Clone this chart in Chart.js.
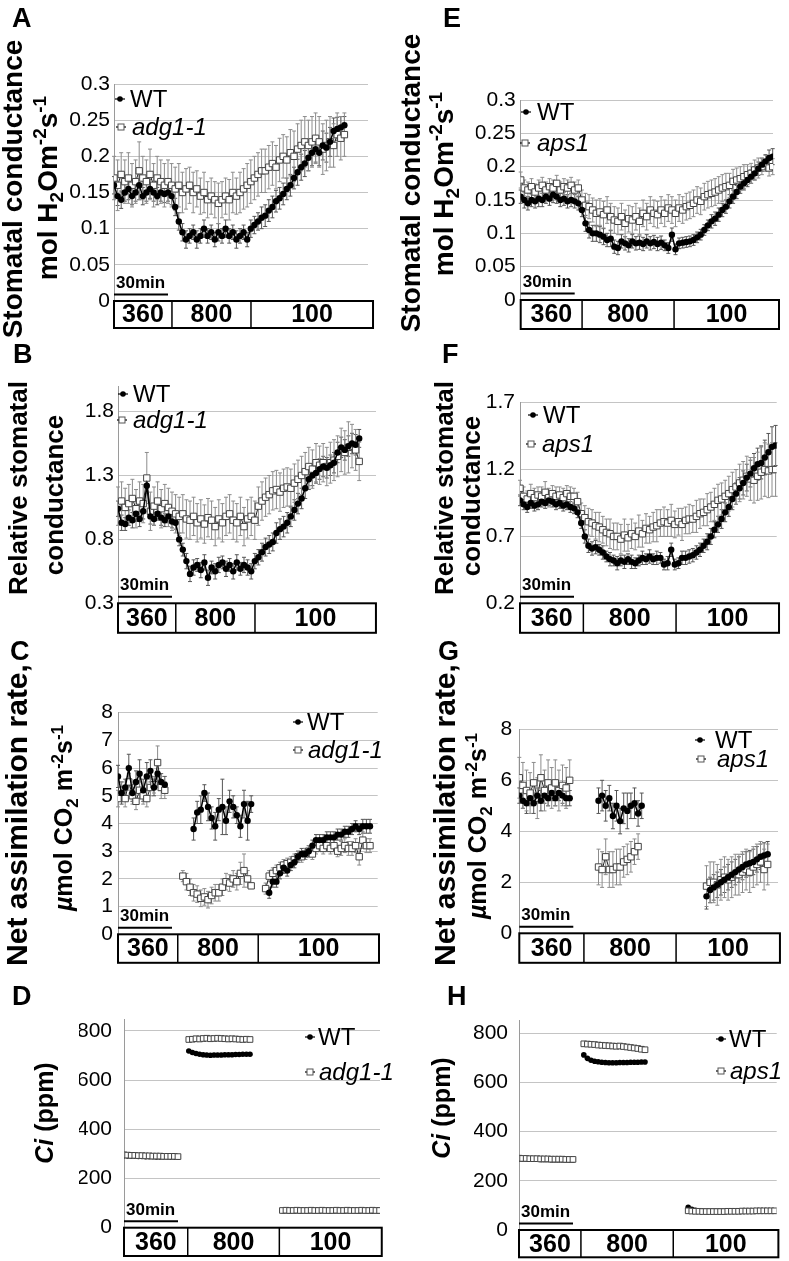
<!DOCTYPE html>
<html>
<head>
<meta charset="utf-8">
<script src="https://cdn.jsdelivr.net/npm/chart.js@4.4.0/dist/chart.umd.min.js"></script>
<style>
  body { margin: 0; background: #fff; width: 789px; height: 1261px; position: relative; overflow: hidden; }
  canvas { position: absolute; }
</style>
</head>
<body>
<script>
const FONT = '"Liberation Sans", Arial, Helvetica, sans-serif';

// CO2 steps (ppm) shown in the box under each panel, and the time grid (min)
const co2Labels = ['360', '800', '100'];
const minutes = [0,2,4,6,8,10,12,14,16,18,20,22,24,26,28,30,32,34,36,38,40,42,44,46,48,50,52,54,56,58,60,62,64,66,68,70,
  72,74,76,78,80,82,84,86,88,90,92,94,96,98,100,102,104,106,108,110,112,114,116,118,120,122,124,126,128,130,132,134,136,138,140,142,144];

// tick labels
const ticksGs = [0, 0.05, 0.1, 0.15, 0.2, 0.25, 0.3];
const ticksRelB = [0.3, 0.8, 1.3, 1.8];
const ticksRelF = [0.2, 0.7, 1.2, 1.7];
const ticksAsC = [0, 1, 2, 3, 4, 5, 6, 7, 8];
const ticksAsG = [0, 2, 4, 6, 8];
const ticksCi = [0, 200, 400, 600, 800];

// A: stomatal conductance, WT vs adg1-1
const gsWT_A = [.16,.145,.14,.15,.155,.145,.15,.16,.145,.15,.155,.15,.145,.15,.148,.15,
  .145,.13,.11,.095,.085,.09,.095,.085,.09,.1,.09,.095,.085,.095,.09,.1,.09,.095,.085,.09,.095,.085,
  .1,.105,.11,.115,.118,.125,.13,.138,.142,.148,.155,.16,.17,.178,.185,.19,.198,.205,.21,.205,.215,.212,.22,.235,.238,.24,.243];
const gsWTerr_A = [.012,.013,.012,.012,.015,.012,.012,.02,.012,.012,.013,.012,.012,.012,.012,.012,
  .012,.012,.012,.012,.012,.01,.01,.012,.01,.012,.01,.01,.01,.012,.01,.012,.01,.01,.012,.01,.01,.01,
  .012,.012,.012,.015,.015,.015,.015,.015,.015,.015,.015,.015,.015,.018,.018,.018,.018,.018,.018,.018,.02,.02,.02,.018,.016,.015,.012];
const gsMut_A = [.17,.16,.175,.165,.17,.16,.165,.18,.17,.165,.175,.16,.17,.165,.16,.165,
  .16,.155,.16,.15,.155,.16,.15,.155,.145,.15,.14,.145,.14,.135,.14,.145,.14,.15,.145,.15,.155,.16,
  .165,.17,.175,.18,.18,.185,.19,.185,.195,.2,.195,.205,.2,.21,.215,.22,.215,.22,.225,.22,.21,.215,.22,.215,.23,.225,.23];
const gsMutErr_A = [.03,.035,.03,.03,.035,.03,.03,.04,.03,.03,.035,.03,.03,.03,.03,.03,
  .03,.03,.03,.028,.028,.025,.028,.025,.025,.028,.025,.025,.025,.028,.025,.025,.028,.028,.025,.028,.028,.03,
  .03,.03,.03,.03,.03,.03,.03,.03,.03,.03,.032,.032,.035,.035,.035,.035,.035,.035,.035,.035,.035,.035,.035,.03,.03,.03,.03];

// E: stomatal conductance, WT vs aps1
const gsWT_E = [.155,.15,.145,.15,.148,.152,.15,.155,.152,.158,.155,.15,.152,.148,.15,.148,.145,
  .135,.115,.105,.1,.1,.098,.095,.09,.092,.08,.078,.088,.085,.082,.088,.085,.086,.084,.088,.085,.087,.084,.086,.082,.078,.098,.076,
  .085,.086,.087,.088,.09,.094,.098,.105,.112,.118,.122,.128,.135,.14,.148,.155,.162,.17,.175,.18,.185,.19,.197,.203,.208,.213,.215];
const gsWTerr_E = [.01,.012,.01,.01,.01,.012,.01,.01,.01,.012,.01,.01,.01,.01,.01,.01,.01,
  .01,.012,.012,.012,.012,.012,.012,.01,.012,.01,.01,.01,.01,.01,.01,.01,.01,.01,.01,.01,.01,.01,.01,.008,.008,.01,.008,
  .008,.008,.008,.008,.008,.008,.008,.008,.008,.01,.01,.01,.01,.01,.01,.01,.01,.01,.01,.01,.01,.01,.01,.01,.01,.012,.012];
const gsMut_E = [.18,.168,.165,.17,.162,.168,.172,.165,.17,.168,.175,.165,.17,.168,.172,.165,.168,
  .15,.142,.14,.135,.13,.132,.128,.135,.125,.12,.118,.125,.115,.122,.12,.125,.118,.13,.125,.135,.13,.128,.135,.13,.138,.135,.13,
  .138,.135,.14,.142,.145,.15,.148,.155,.158,.16,.162,.165,.168,.17,.172,.178,.18,.182,.185,.188,.19,.195,.198,.2,.205,.198,.2];
const gsMutErr_E = [.012,.012,.012,.012,.012,.012,.012,.012,.012,.012,.012,.012,.012,.012,.012,.012,.012,
  .015,.018,.018,.018,.02,.02,.02,.02,.02,.02,.02,.02,.02,.02,.02,.02,.02,.02,.02,.02,.02,.02,.02,.02,.02,.02,.02,
  .02,.02,.02,.02,.02,.02,.02,.02,.02,.02,.02,.02,.02,.02,.018,.018,.018,.018,.018,.015,.015,.015,.015,.012,.012,.012,.012];

// B: relative stomatal conductance, WT vs adg1-1
const relWT_B = [1.04,.93,.92,.97,.95,1.0,.96,1.02,1.22,.98,.96,1.0,.97,.95,.98,.94,.93,
  .8,.72,.63,.53,.58,.6,.56,.62,.5,.58,.55,.6,.62,.57,.6,.55,.62,.57,.6,.58,.55,
  .63,.66,.7,.74,.76,.78,.85,.88,.9,.93,.98,1.03,1.08,1.12,1.2,1.27,1.3,1.32,1.35,1.37,1.36,1.38,1.4,1.48,1.52,1.5,1.53,1.55,1.54,1.59];
const relWTerr_B = [.06,.06,.05,.06,.06,.06,.06,.06,.06,.06,.05,.05,.06,.05,.05,.05,.05,
  .05,.05,.06,.06,.06,.05,.06,.06,.06,.05,.06,.06,.05,.06,.05,.06,.06,.05,.06,.06,.06,
  .06,.06,.07,.07,.07,.07,.08,.08,.08,.08,.08,.08,.08,.08,.08,.08,.08,.08,.08,.08,.08,.08,.08,.08,.08,.08,.08,.08,.08,.07];
const relMut_B = [1.06,1.1,1.05,1.08,1.12,1.04,1.1,1.08,1.28,1.02,1.06,1.1,1.04,1.08,1.05,1.02,1.0,
  .98,1.0,.96,.95,.98,.93,.96,.92,.97,.95,.9,.96,.93,.98,1.0,.95,.93,.98,.9,.96,.98,
  .95,1.06,1.1,1.13,1.15,1.18,1.19,1.17,1.2,1.21,1.2,1.24,1.27,1.3,1.33,1.37,1.35,1.4,1.38,1.4,1.37,1.4,1.42,1.45,1.5,1.48,1.52,1.53,1.5,1.41];
const relMutErr_B = [.15,.15,.15,.15,.15,.15,.15,.15,.2,.15,.15,.15,.15,.15,.15,.15,.15,
  .15,.15,.15,.15,.15,.15,.15,.15,.15,.15,.15,.15,.15,.15,.15,.15,.15,.15,.15,.15,.15,
  .15,.15,.15,.15,.15,.15,.15,.15,.15,.15,.15,.15,.15,.15,.15,.15,.15,.15,.15,.15,.15,.16,.16,.16,.17,.17,.2,.17,.16,.15];

// F: relative stomatal conductance, WT vs aps1
const relWT_F = [.97,.94,.92,.95,.93,.94,.96,.95,.97,.96,.94,.95,.93,.94,.92,.91,.88,
  .8,.7,.63,.61,.62,.6,.58,.55,.53,.52,.5,.52,.51,.53,.51,.5,.52,.54,.53,.55,.53,.54,.54,.49,.5,.6,.49,
  .5,.54,.54,.55,.56,.58,.6,.63,.66,.7,.75,.79,.83,.88,.92,.98,1.02,1.06,1.1,1.14,1.17,1.21,1.24,1.25,1.29,1.33,1.37,1.38];
const relWTerr_F = [.04,.04,.04,.04,.04,.04,.04,.04,.04,.04,.04,.04,.04,.04,.04,.04,.04,
  .04,.05,.05,.05,.05,.04,.05,.04,.05,.04,.05,.04,.05,.04,.05,.04,.04,.05,.04,.05,.04,.05,.04,.04,.05,.05,.04,
  .04,.05,.05,.05,.05,.05,.05,.05,.06,.06,.06,.06,.07,.07,.07,.08,.08,.08,.09,.1,.1,.11,.12,.12,.13,.14,.15,.15];
const relMut_F = [1.06,1.0,.98,1.02,.99,1.01,1.0,1.03,.99,1.02,1.0,1.01,.99,1.02,1.0,1.0,.96,
  .87,.84,.81,.8,.78,.77,.75,.73,.72,.7,.7,.68,.71,.69,.72,.7,.74,.72,.76,.75,.77,.78,.8,.81,.8,.82,.79,
  .81,.79,.82,.83,.83,.85,.87,.88,.9,.92,.94,.97,.98,1.0,1.02,1.05,1.07,1.1,1.12,1.15,1.13,1.12,1.15,1.18,1.2,1.19,1.2,1.2];
const relMutErr_F = [.06,.07,.06,.07,.07,.06,.07,.08,.07,.06,.07,.06,.07,.06,.07,.06,.07,
  .08,.09,.1,.1,.1,.11,.1,.1,.11,.1,.1,.11,.12,.1,.11,.1,.12,.1,.11,.1,.11,.12,.1,.11,.1,.12,.1,
  .1,.12,.1,.11,.1,.12,.11,.1,.12,.11,.12,.12,.12,.12,.13,.13,.13,.14,.14,.15,.16,.17,.18,.2,.2,.2,.2,.2];

// C: net assimilation, WT vs adg1-1 (gaps = no measurement)
const anWT_C = [5.7,5.1,5.3,6.0,5.1,5.5,5.8,5.2,5.7,5.9,5.3,5.8,5.5,5.4,
  null,null,null,null,null,null,null,
  3.8,4.4,4.5,5.1,4.6,4.2,3.9,4.5,4.6,4.1,4.8,4.6,4.3,3.9,4.7,4.1,4.7,
  null,null,null,null,
  1.5,1.9,1.9,2.2,2.4,2.3,2.5,2.6,2.8,2.9,2.9,3.0,3.2,3.4,3.4,3.4,3.5,3.5,3.5,3.6,3.6,3.7,3.7,3.8,3.9,3.8,3.9,3.9,3.9];
const anWTerr_C = [.4,.4,.3,.5,.3,.4,.5,.4,.5,.4,.3,.4,.3,.3,
  null,null,null,null,null,null,null,
  .4,.4,.5,.3,.5,.4,.5,.4,1.0,.5,.4,.4,.3,.4,.5,.7,.3,
  null,null,null,null,
  .2,.2,.2,.2,.2,.2,.2,.2,.2,.2,.2,.2,.2,.2,.2,.2,.2,.2,.2,.2,.2,.2,.2,.2,.2,.2,.25,.25,.25];
const anMut_C = [4.9,5.2,4.9,5.5,5.0,4.8,5.2,5.0,4.9,5.3,5.4,6.2,5.3,5.2,
  null,null,null,null,
  2.1,1.9,1.7,1.5,1.45,1.3,1.35,1.25,1.4,1.5,1.5,1.7,1.9,1.85,2.0,1.9,2.2,2.3,2.0,1.75,
  null,null,null,
  1.65,2.1,2.2,2.3,2.4,2.5,2.55,2.6,2.7,2.8,2.8,2.9,3.0,2.9,3.1,3.2,3.1,3.2,3.1,3.2,3.0,3.1,3.2,3.1,3.1,3.2,2.8,3.4,3.2,3.2];
const anMutErr_C = [.3,.3,.3,.3,.3,.3,.3,.3,.3,.3,.3,.6,.4,.3,
  null,null,null,null,
  .2,.3,.3,.3,.3,.3,.3,.3,.3,.3,.3,.3,.3,.3,.3,.3,.4,.6,.3,.1,
  null,null,null,
  .2,.2,.2,.2,.2,.2,.2,.2,.2,.2,.2,.2,.2,.2,.2,.2,.2,.2,.2,.2,.2,.25,.25,.25,.25,.25,.3,.3,.25,.25];

// G: net assimilation, WT vs aps1
const anWT_G = [5.4,5.2,5.1,5.3,5.1,5.4,5.2,5.4,5.3,5.5,5.3,5.5,5.4,5.3,5.3,
  null,null,null,null,null,null,null,
  5.2,5.4,5.0,5.3,4.6,5.0,4.4,4.9,4.8,5.0,5.1,4.7,5.0,
  null,null,null,null,null,null,null,null,null,null,null,null,null,null,null,null,null,
  1.45,1.7,1.8,1.9,2.0,2.1,2.2,2.3,2.4,2.5,2.6,2.7,2.75,2.8,2.9,3.0,3.05,3.1];
const anWTerr_G = [.3,.3,.4,.3,.4,.3,.4,.3,.3,.3,.3,.3,.3,.3,.3,
  null,null,null,null,null,null,null,
  .5,.6,.6,.5,.5,.6,.5,.6,.7,.5,.6,.5,.5,
  null,null,null,null,null,null,null,null,null,null,null,null,null,null,null,null,null,
  .5,.5,.5,.5,.5,.5,.5,.5,.5,.5,.5,.5,.5,.5,.5,.5,.5,.5];
const anMut_G = [6.1,5.8,5.6,5.5,5.9,5.3,6.1,5.6,5.9,5.7,5.9,5.6,5.8,5.7,6.0,
  null,null,null,null,null,null,null,
  2.6,2.5,3.0,2.5,2.5,2.6,2.6,2.8,2.9,3.0,3.2,3.4,
  null,null,null,null,null,null,null,null,null,null,null,null,null,null,null,null,null,null,
  1.85,2.0,2.0,1.9,2.1,2.2,2.1,2.2,2.3,2.3,2.4,2.5,2.4,2.6,2.7,2.8,2.5,2.7];
const anMutErr_G = [.8,.9,.8,.8,.8,.8,.9,.8,.9,.8,.9,.8,.8,.8,.8,
  null,null,null,null,null,null,null,
  .7,.7,.7,.7,.7,.7,.7,.6,.6,.6,.5,.5,
  null,null,null,null,null,null,null,null,null,null,null,null,null,null,null,null,null,null,
  .8,.8,.8,.8,.8,.8,.8,.8,.8,.8,.8,.8,.8,.8,.8,.8,.8,.8];

// D: Ci, WT vs adg1-1
const ciWT_D = [293,292,291,291,290,290,289,289,289,288,288,288,288,287,287,287,
  null,null,
  718,712,708,705,703,702,701,702,702,702,703,703,703,704,704,705,705,705,
  null,null,null,null,null,null,null,null,
  69,69,68,69,69,68,69,69,69,68,69,69,69,68,69,69,69,68,69,69,69,68,69,69,69,68,69,69];
const ciMut_D = [296,295,294,294,293,293,292,292,291,291,291,290,290,290,290,289,
  null,null,
  765,766,768,767,769,770,768,769,770,769,768,767,768,767,766,765,766,765,
  null,null,null,null,null,null,null,null,
  70,71,70,70,71,70,70,70,71,70,70,71,70,70,70,71,70,70,71,70,70,70,71,70,70,71,70,70];

// H: Ci, WT vs aps1
const ciWT_H = [290,289,289,288,288,288,287,287,287,286,286,286,286,285,285,285,
  null,null,
  712,698,690,686,684,682,681,680,680,680,681,681,681,682,682,682,683,683,
  null,null,null,null,null,null,null,null,null,null,null,
  92,84,80,78,77,76,76,76,76,76,76,76,76,76,77,77,77,77,77,78,78,78,78,78,78];
const ciMut_H = [292,291,291,290,290,290,289,289,289,288,288,288,288,287,287,287,
  null,null,
  757,756,755,754,752,751,750,749,748,747,748,746,744,742,740,738,735,733,
  null,null,null,null,null,null,null,null,null,null,null,
  78,77,76,76,75,75,75,75,75,75,75,76,76,76,76,77,77,77,77,78,78,78,78,78,78];

// axis titles (runs of rich text)
const titleGs = [[{t: 'Stomatal conductance'}],
  [{t: 'mol H'}, {t: '2', sub: 1}, {t: 'Om'}, {t: '-2', sup: 1}, {t: 's'}, {t: '-1', sup: 1}]];
const titleRel = [[{t: 'Relative stomatal'}], [{t: 'conductance'}]];
const titleAn = [[{t: 'Net assimilation rate,'}],
  [{t: 'µ', it: 1}, {t: 'mol CO'}, {t: '2', sub: 1}, {t: ' m'}, {t: '-2', sup: 1}, {t: 's'}, {t: '-1', sup: 1}]];
const titleCi = [[{t: 'Ci', it: 1}, {t: ' (ppm)'}]];

const panels = [
  { id: 'A', cx: 0, cy: 0, cw: 395, ch: 338, area: [114, 84, 368, 301], yMin: 0, yMax: 0.3, ticks: ticksGs, pad: 4,
    phases: [0, 32.2, 76.1], boxEnd: 143.9, boxH: 27, letter: [12, 27],
    title: titleGs, titlePos: [[22, 189, 28], [57, 188, 28]], mutant: 'adg1-1', legend: [[120, 99], [121, 127]], gap: 10,
    wt: gsWT_A, wtErr: gsWTerr_A, mut: gsMut_A, mutErr: gsMutErr_A },
  { id: 'E', cx: 395, cy: 0, cw: 394, ch: 338, area: [520.7, 100, 773, 300], yMin: 0, yMax: 0.3, ticks: ticksGs, pad: 5,
    phases: [0, 34.1, 85.2], boxEnd: 143.5, boxH: 29, letter: [443, 27],
    title: titleGs, titlePos: [[420, 183, 28], [453, 184, 28]], mutant: 'aps1', legend: [[526, 112], [525, 143]], gap: 11,
    wt: gsWT_E, wtErr: gsWTerr_E, mut: gsMut_E, mutErr: gsMutErr_E },
  { id: 'B', cx: 0, cy: 338, cw: 395, ch: 302, area: [118, 386, 376, 603.3], yMin: 0.3, yMax: 2.0, ticks: ticksRelB, pad: 4,
    phases: [0, 32.1, 76.1], boxEnd: 143.3, boxH: 29.5, letter: [13, 363],
    title: titleRel, titlePos: [[27, 488, 26], [63, 495, 26]], mutant: 'adg1-1', legend: [[123, 394], [122, 420]], gap: 10,
    wt: relWT_B, wtErr: relWTerr_B, mut: relMut_B, mutErr: relMutErr_B },
  { id: 'F', cx: 395, cy: 338, cw: 394, ch: 302, area: [520, 402.7, 776.7, 603.3], yMin: 0.2, yMax: 1.7, ticks: ticksRelF, pad: 5,
    phases: [0, 35.2, 86.7], boxEnd: 143.9, boxH: 29.5, letter: [442, 363],
    title: titleRel, titlePos: [[453, 488, 26], [480, 496, 26]], mutant: 'aps1', legend: [[533, 415], [531, 444]], gap: 10,
    wt: relWT_F, wtErr: relWTerr_F, mut: relMut_F, mutErr: relMutErr_F },
  { id: 'C', cx: 0, cy: 640, cw: 395, ch: 338, area: [118, 712.7, 377.7, 934.3], yMin: 0, yMax: 8, ticks: ticksAsC, pad: 5,
    phases: [0, 33.2, 77.9], boxEnd: 145, boxH: 28.5, letter: [10, 660],
    title: titleAn, titlePos: [[27, 815, 30], [72, 818, 25]], mutant: 'adg1-1', legend: [[298, 722], [298, 750]], gap: 9,
    wt: anWT_C, wtErr: anWTerr_C, mut: anMut_C, mutErr: anMutErr_C },
  { id: 'G', cx: 395, cy: 640, cw: 394, ch: 338, area: [519.3, 729.3, 778, 933.3], yMin: 0, yMax: 8, ticks: ticksAsG, pad: 7,
    phases: [0, 35.9, 87.1], boxEnd: 144.8, boxH: 29.5, letter: [438, 660],
    title: titleAn, titlePos: [[455, 815, 30], [486, 826, 25]], mutant: 'aps1', legend: [[700, 740], [701, 759]], gap: 15,
    wt: anWT_G, wtErr: anWTerr_G, mut: anMut_G, mutErr: anMutErr_G },
  { id: 'D', cx: 0, cy: 978, cw: 395, ch: 283, area: [124, 1019.3, 380, 1227.7], yMin: 0, yMax: 847, ticks: ticksCi, pad: 12,
    phases: [0, 35.4, 86.3], boxEnd: 143.2, boxH: 28.3, letter: [12, 1005],
    title: titleCi, titlePos: [[53, 1113, 25]], mutant: 'adg1-1', legend: [[310, 1037], [310, 1072]], gap: 8, ci: true,
    wt: ciWT_D, wtErr: null, mut: ciMut_D, mutErr: null },
  { id: 'H', cx: 395, cy: 978, cw: 394, ch: 283, area: [519, 1020.7, 776.7, 1230], yMin: 0, yMax: 851, ticks: ticksCi, pad: 11,
    phases: [0, 34.4, 85.7], boxEnd: 144.1, boxH: 27.3, letter: [447, 1005],
    title: titleCi, titlePos: [[450, 1108, 25]], mutant: 'aps1', legend: [[721, 1039], [721, 1071]], gap: 8, ci: true,
    wt: ciWT_H, wtErr: null, mut: ciMut_H, mutErr: null }
];
const panelById = {};
panels.forEach(p => panelById['c' + p.id] = p);

function drawRotated(ctx, runs, x, y, size) {
  ctx.save();
  ctx.translate(x, y);
  ctx.rotate(-Math.PI / 2);
  const fontFor = r => (r.it ? 'italic ' : '') + 'bold ' + ((r.sub || r.sup) ? Math.round(size * 0.68) : size) + 'px ' + FONT;
  let total = 0;
  runs.forEach(r => { ctx.font = fontFor(r); total += ctx.measureText(r.t).width; });
  let pos = -total / 2;
  ctx.textAlign = 'left';
  ctx.textBaseline = 'alphabetic';
  ctx.fillStyle = '#000';
  runs.forEach(r => {
    ctx.font = fontFor(r);
    const dy = r.sub ? size * 0.22 : r.sup ? -size * 0.38 : 0;
    ctx.fillText(r.t, pos, dy);
    pos += ctx.measureText(r.t).width;
  });
  ctx.restore();
}

function legendItem(ctx, x, y, isWT, label, gap) {
  ctx.strokeStyle = '#000';
  ctx.lineWidth = 1.2;
  ctx.beginPath(); ctx.moveTo(x - 5, y); ctx.lineTo(x + 5, y); ctx.stroke();
  if (isWT) {
    ctx.fillStyle = '#000';
    ctx.beginPath(); ctx.arc(x, y, 2.8, 0, Math.PI * 2); ctx.fill();
  } else {
    ctx.fillStyle = '#fff'; ctx.strokeStyle = '#555'; ctx.lineWidth = 1;
    ctx.fillRect(x - 3, y - 3, 6, 6); ctx.strokeRect(x - 3, y - 3, 6, 6);
  }
  ctx.fillStyle = '#000';
  ctx.font = (isWT ? '' : 'italic ') + '24px ' + FONT;
  ctx.textAlign = 'left';
  ctx.textBaseline = 'alphabetic';
  ctx.fillText(label, x + gap, y + 8);
}

const decor = {
  id: 'decor',
  beforeDatasetsDraw(chart) {
    const ctx = chart.ctx, xs = chart.scales.x, ys = chart.scales.y;
    ctx.save();
    ctx.lineWidth = 1;
    chart.data.datasets.forEach(ds => {
      if (!ds.err) return;
      ctx.strokeStyle = ds.errColor;
      ds.data.forEach((pt, i) => {
        const e = ds.err[i];
        if (pt.y == null || e == null) return;
        const x = xs.getPixelForValue(pt.x);
        const y1 = ys.getPixelForValue(pt.y + e), y2 = ys.getPixelForValue(pt.y - e);
        ctx.beginPath();
        ctx.moveTo(x, y1); ctx.lineTo(x, y2);
        ctx.moveTo(x - 2, y1); ctx.lineTo(x + 2, y1);
        ctx.moveTo(x - 2, y2); ctx.lineTo(x + 2, y2);
        ctx.stroke();
      });
    });
    ctx.restore();
  },
  afterDraw(chart) {
    const p = panelById[chart.canvas.id];
    const ctx = chart.ctx, xs = chart.scales.x;
    // page-coordinate decorations
    ctx.save();
    ctx.translate(-p.cx, -p.cy);
    ctx.fillStyle = '#000';
    ctx.font = 'bold 27px ' + FONT;
    ctx.textAlign = 'left';
    ctx.textBaseline = 'alphabetic';
    ctx.fillText(p.id, p.letter[0], p.letter[1]);
    p.title.forEach((runs, i) => drawRotated(ctx, runs, p.titlePos[i][0], p.titlePos[i][1], p.titlePos[i][2]));
    legendItem(ctx, p.legend[0][0], p.legend[0][1], true, 'WT', p.gap);
    legendItem(ctx, p.legend[1][0], p.legend[1][1], false, p.mutant, p.gap + 1);
    ctx.restore();

    // CO2 box and 30 min scale bar, placed with the x scale
    const top = chart.chartArea.bottom;
    const x0 = xs.getPixelForValue(0), xe = xs.getPixelForValue(p.boxEnd);
    ctx.save();
    ctx.fillStyle = '#fff';
    ctx.fillRect(x0, top, xe - x0, p.boxH);
    ctx.strokeStyle = '#000';
    ctx.lineWidth = 2;
    ctx.strokeRect(x0, top, xe - x0, p.boxH);
    ctx.lineWidth = 1.5;
    p.phases.slice(1).forEach(t => {
      const x = xs.getPixelForValue(t);
      ctx.beginPath(); ctx.moveTo(x, top); ctx.lineTo(x, top + p.boxH); ctx.stroke();
    });
    ctx.fillStyle = '#000';
    ctx.font = 'bold 25px ' + FONT;
    ctx.textAlign = 'center';
    ctx.textBaseline = 'middle';
    p.phases.forEach((t, i) => {
      const a = xs.getPixelForValue(t);
      const b = xs.getPixelForValue(i + 1 < p.phases.length ? p.phases[i + 1] : p.boxEnd);
      ctx.fillText(co2Labels[i], (a + b) / 2, top + p.boxH / 2 + 1);
    });
    const barY = top - 6.5;
    ctx.lineWidth = 2;
    ctx.beginPath(); ctx.moveTo(x0, barY); ctx.lineTo(xs.getPixelForValue(30), barY); ctx.stroke();
    ctx.font = 'bold 17px ' + FONT;
    ctx.textAlign = 'left';
    ctx.textBaseline = 'alphabetic';
    ctx.fillText('30min', x0 + 2, barY - 6.5);
    ctx.restore();
  }
};

function toPoints(vals) {
  return vals.map((v, i) => ({ x: minutes[i], y: v }));
}

panels.forEach(p => {
  const canvas = document.createElement('canvas');
  canvas.id = 'c' + p.id;
  canvas.width = p.cw; canvas.height = p.ch;
  canvas.style.left = p.cx + 'px'; canvas.style.top = p.cy + 'px';
  canvas.style.width = p.cw + 'px'; canvas.style.height = p.ch + 'px';
  document.body.appendChild(canvas);

  const axisW = 45;
  const [l, t, r, b] = p.area;
  const wtSet = {
    label: 'WT', data: toPoints(p.wt), err: p.wtErr, errColor: '#555',
    borderColor: '#000', borderWidth: 1.5, tension: 0,
    pointStyle: 'circle', pointRadius: p.ci ? 2.8 : 3.2,
    pointBackgroundColor: '#000', pointBorderColor: '#000', pointBorderWidth: 0
  };
  const mutSet = {
    label: p.mutant, data: toPoints(p.mut), err: p.mutErr, errColor: '#8c8c8c',
    borderColor: '#222', borderWidth: 1, tension: 0,
    pointStyle: 'rect', pointRadius: p.ci ? 4 : 4.5,
    pointBackgroundColor: '#fff', pointBorderColor: '#444', pointBorderWidth: 1
  };
  // Chart.js paints the first dataset last (on top)
  new Chart(canvas, {
    type: 'line',
    data: { datasets: p.ci ? [mutSet, wtSet] : [wtSet, mutSet] },
    options: {
      responsive: false,
      animation: false,
      devicePixelRatio: 1,
      layout: { padding: { left: l - p.cx - axisW, top: t - p.cy, right: p.cx + p.cw - r, bottom: p.cy + p.ch - b } },
      plugins: { legend: { display: false }, tooltip: { enabled: false } },
      scales: {
        x: { type: 'linear', display: false, min: 0, max: (r - l) / 1.8 },
        y: {
          min: p.yMin, max: p.yMax,
          afterBuildTicks: s => { s.ticks = p.ticks.map(v => ({ value: v })); },
          afterFit: s => { s.width = axisW; },
          ticks: {
            autoSkip: false, padding: p.pad, color: '#000',
            font: { family: FONT, size: 21 },
            callback: v => String(Math.round(v * 1000) / 1000)
          },
          grid: { color: '#c4c4c4', lineWidth: 1, drawTicks: false },
          border: { color: '#9a9a9a', width: 1 }
        }
      }
    },
    plugins: [decor]
  });
});
</script>
</body>
</html>
